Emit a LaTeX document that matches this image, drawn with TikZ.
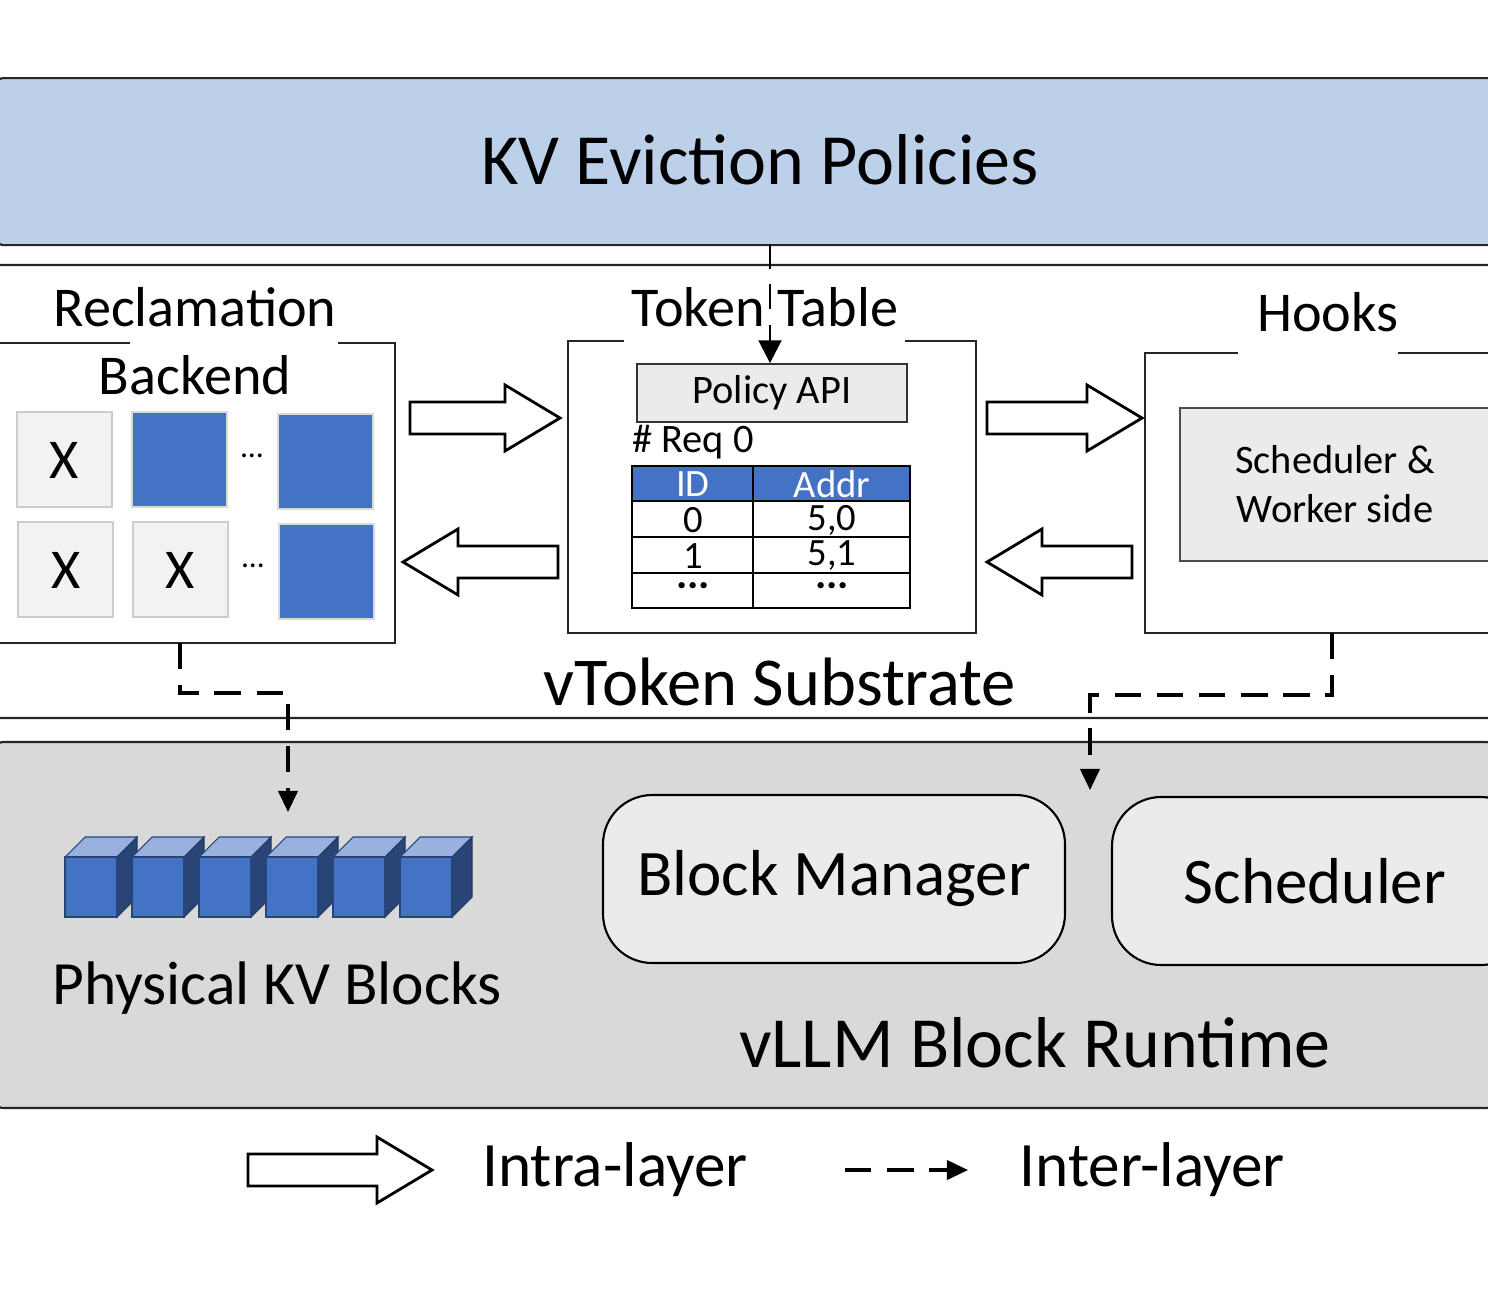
\documentclass[tikz,border=0pt]{standalone}
\usepackage{fontspec}
\setmainfont{Carlito}
\usetikzlibrary{arrows.meta}
\definecolor{topblue}{HTML}{BCD0E9}
\definecolor{cellblue}{HTML}{4472C4}
\definecolor{bandgray}{HTML}{D9D9D9}
\definecolor{cellgray}{HTML}{F2F2F2}
\definecolor{boxgray}{HTML}{EBEBEB}
\tikzset{
  px/.style={x=0.02cm,y=-0.02cm},
  edge/.style={draw=black!85,line width=1.2pt},
  bluecell/.style={fill=cellblue,draw=black!15,line width=0.6pt},
  xcell/.style={fill=cellgray,draw=black!20,line width=0.6pt},
  dashedc/.style={line width=1.8pt,dash pattern=on 15pt off 9pt},
  tip/.style={-{Triangle[length=12pt,width=11pt]}},
  hollow/.style={draw=black,line width=1.6pt,fill=white,line join=miter},
}
\newcommand{\rarrow}[3]{% x1 x2 y
  \draw[hollow] (#1,#3-16) -- (#2-55,#3-16) -- (#2-55,#3-33) -- (#2,#3) -- (#2-55,#3+33) -- (#2-55,#3+16) -- (#1,#3+16) -- cycle;}
\newcommand{\larrow}[3]{% x1(tip) x2 y
  \draw[hollow] (#2,#3-16) -- (#1+55,#3-16) -- (#1+55,#3-33) -- (#1,#3) -- (#1+55,#3+33) -- (#1+55,#3+16) -- (#2,#3+16) -- cycle;}
\newcommand{\cube}[1]{%
  \draw[fill=cellblue!55!white,draw=cellblue!60!black,line width=0.6pt] (#1,857) -- (#1+20,837) -- (#1+72,837) -- (#1+52,857) -- cycle;
  \draw[fill=cellblue!60!black,draw=cellblue!50!black,line width=0.6pt] (#1+52,857) -- (#1+72,837) -- (#1+72,897) -- (#1+52,917) -- cycle;
  \draw[fill=cellblue,draw=cellblue!60!black,line width=0.6pt] (#1,857) rectangle (#1+52,917);}
\begin{document}
\begin{tikzpicture}[px]
\useasboundingbox (0,0) rectangle (1488,1296);
% top band
\node[draw=black!85,line width=1.2pt,fill=topblue,rounded corners=3pt,minimum width=1500*0.02cm,minimum height=167*0.02cm,anchor=north west,inner sep=0] (kv) at (-4,77) {};
\node[font=\fontsize{41}{44}\selectfont] (kvt) at (760,160) {KV Eviction Policies};
% middle band
\draw[edge,rounded corners=6pt] (-10,265) rectangle (1500,718);
\node[font=\fontsize{39}{42}\selectfont] (vts) at (780,682) {vToken Substrate};
% bottom band
\draw[edge,fill=bandgray,rounded corners=8pt] (-10,742) rectangle (1500,1108);
% Reclamation backend
\node[font=\fontsize{32}{34}\selectfont] (rec) at (195,307) {Reclamation};
\node[font=\fontsize{32}{34}\selectfont] (bk) at (195,375) {Backend};
\draw[edge] (0,343) -- (130,343);
\draw[edge] (338,343) -- (395,343) -- (395,643) -- (0,643);
\draw[xcell] (17,412) rectangle (112,507); \node[font=\fontsize{32}{34}\selectfont] at (64,460) {X};
\draw[bluecell] (132,412) rectangle (227,507);
\node[font=\fontsize{18}{20}\selectfont] at (252,456) {...};
\draw[bluecell] (278,414) rectangle (373,509);
\draw[xcell] (18,522) rectangle (113,617); \node[font=\fontsize{32}{34}\selectfont] at (66,570) {X};
\draw[xcell] (133,522) rectangle (228,617); \node[font=\fontsize{32}{34}\selectfont] at (180,570) {X};
\node[font=\fontsize{18}{20}\selectfont] at (253,566) {...};
\draw[bluecell] (279,524) rectangle (374,619);
% Token table
\node[font=\fontsize{32}{34}\selectfont] (tt) at (765,307) {Token Table};
\draw[edge] (624,341) -- (568,341) -- (568,633) -- (976,633) -- (976,341) -- (905,341);
\node[draw=black!80,line width=1pt,fill=boxgray,minimum width=270*0.02cm,minimum height=58*0.02cm,inner sep=0,font=\fontsize{23}{25}\selectfont] (api) at (772,393) {Policy API};
\node[font=\fontsize{23}{25}\selectfont] (req) at (693,442) {\# Req 0};
\fill[cellblue] (632,466) rectangle (910,501);
\draw[line width=1pt] (632,466) rectangle (910,608);
\foreach \y in {501,537,573} \draw[line width=1pt] (632,\y) -- (910,\y);
\draw[line width=1pt] (753,466) -- (753,608);
\node[white,font=\fontsize{22}{24}\selectfont,inner sep=0] at (693,484) {ID};
\node[white,font=\fontsize{22}{24}\selectfont,inner sep=0] at (832,484) {Addr};
\node[font=\fontsize{22}{24}\selectfont,inner sep=0] at (693,520) {0};
\node[font=\fontsize{22}{24}\selectfont,inner sep=0] at (832,520) {5,0};
\node[font=\fontsize{22}{24}\selectfont,inner sep=0] at (693,556) {1};
\node[font=\fontsize{22}{24}\selectfont,inner sep=0] at (832,556) {5,1};
\node[font=\bfseries\fontsize{24}{26}\selectfont,inner sep=0] at (693,586) {...};
\node[font=\bfseries\fontsize{24}{26}\selectfont,inner sep=0] at (832,586) {...};
\coordinate (kvb) at (770,244);
\draw[line width=1.4pt,dash pattern=on 14pt off 9pt,-{Triangle[length=13pt,width=13pt]}] (kvb) -- (api.north-|kvb);
% Hooks
\node[font=\fontsize{32}{34}\selectfont] (hk) at (1328,312) {Hooks};
\draw[edge] (1238,353) -- (1145,353) -- (1145,633) -- (1500,633);
\draw[edge] (1398,353) -- (1500,353);
\draw[draw=black!70,line width=1pt,fill=boxgray] (1180,408) rectangle (1500,561);
\node[align=center,font=\fontsize{23}{28}\selectfont] (sw) at (1335,484) {Scheduler \&\\Worker side};
% block arrows
\rarrow{410}{560}{418}
\rarrow{987}{1142}{418}
\larrow{403}{558}{562}
\larrow{987}{1132}{562}
% dashed connectors
\coordinate (d1) at (180,643);
\coordinate (d2) at (288,812);
\draw[dashedc,tip] (d1) -- (180,693) -- (288,693) -- (d2);
\coordinate (d3) at (1332,633);
\coordinate (d4) at (1090,790);
\draw[dashedc,tip] (d3) -- (1332,695) -- (1090,695) -- (d4);
% cubes
\foreach \i in {0,...,5} {\cube{65+67*\i}}
\node[font=\fontsize{35}{38}\selectfont] (pkv) at (277,988) {Physical KV Blocks};
\node[draw=black,line width=1.2pt,fill=boxgray,rounded corners=28pt,minimum width=462*0.02cm,minimum height=168*0.02cm,font=\fontsize{37}{40}\selectfont] (bm) at (834,879) {Block Manager};
\draw[draw=black,line width=1.2pt,fill=boxgray,rounded corners=28pt] (1112,797) rectangle (1530,965);
\node[font=\fontsize{37}{40}\selectfont] (sch) at (1315,881) {Scheduler};
\node[font=\fontsize{41}{44}\selectfont] (rt) at (1035,1043) {vLLM Block Runtime};
% legend
\rarrow{248}{432}{1170}
\node[font=\fontsize{36}{40}\selectfont] (intra) at (615,1170) {Intra-layer};
\coordinate (l1) at (845,1170);
\coordinate (l2) at (968,1170);
\draw[line width=1.8pt,dash pattern=on 15pt off 9pt,tip] (l1) -- (l2);
\node[font=\fontsize{36}{40}\selectfont] (inter) at (1152,1170) {Inter-layer};
\end{tikzpicture}
\end{document}
